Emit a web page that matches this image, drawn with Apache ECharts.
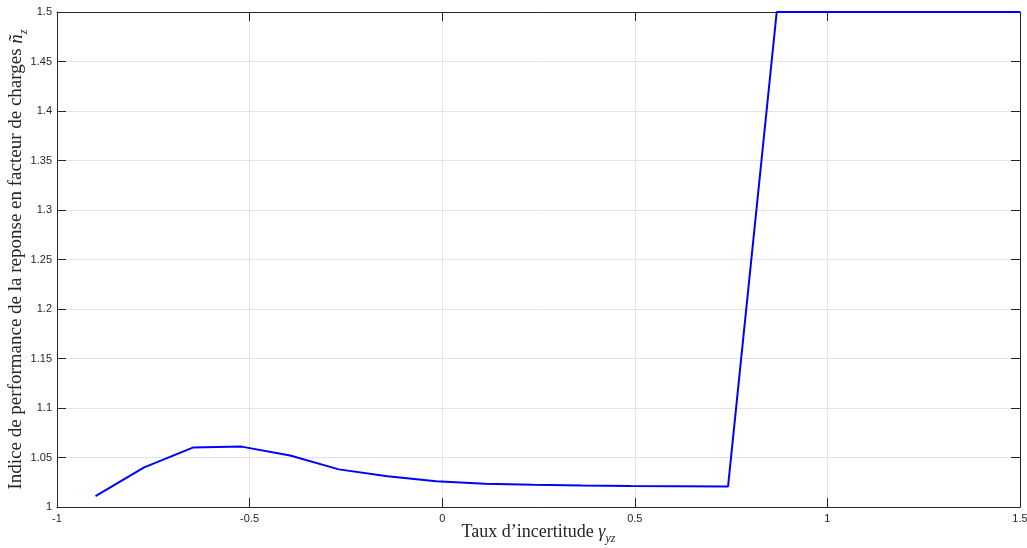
<!DOCTYPE html>
<html>
<head>
<meta charset="utf-8">
<script src="https://cdn.jsdelivr.net/npm/echarts@6/dist/echarts.min.js"></script>
<style>html,body{margin:0;padding:0;background:#fff}#c{width:1027px;height:548px}</style>
</head>
<body>
<div id="c"></div>
<script>
const xValues = [-0.9, -0.7737, -0.6474, -0.5211, -0.3947, -0.2684, -0.1421, -0.0158, 0.1105, 0.2368, 0.3632, 0.4895, 0.6158, 0.7421, 0.8684, 0.9947, 1.1211, 1.2474, 1.3737, 1.5];
const yValues = [1.011, 1.040, 1.060, 1.061, 1.052, 1.038, 1.031, 1.026, 1.0235, 1.0225, 1.0218, 1.0213, 1.021, 1.0208, 1.5, 1.5, 1.5, 1.5, 1.5, 1.5];
const xTicks = [-1, -0.5, 0, 0.5, 1, 1.5];
const yTicks = [1, 1.05, 1.1, 1.15, 1.2, 1.25, 1.3, 1.35, 1.4, 1.45, 1.5];

const axisColor = '#262626';
const labelFont = {color: axisColor, fontFamily: 'Liberation Sans', fontSize: 11};
const serif = 'Liberation Serif';
const chart = echarts.init(document.getElementById('c'), null, {renderer: 'canvas'});
const fmt = v => String(+v.toFixed(2));
const baseTick = {show: true, inside: true, length: 9, lineStyle: {color: axisColor, width: 1}};
const richName = size => ({
  t: {fontFamily: serif, fontSize: size, color: axisColor, lineHeight: 22, verticalAlign: 'bottom'},
  i: {fontFamily: serif, fontStyle: 'italic', fontSize: size, color: axisColor, lineHeight: 22, verticalAlign: 'bottom'},
  s: {fontFamily: serif, fontStyle: 'italic', fontSize: 12, color: axisColor, lineHeight: 22, verticalAlign: 'bottom', padding: [0, 0, -4, 0]}
});
chart.setOption({
  animation: false,
  backgroundColor: '#fff',
  grid: {left: 57, right: 7, top: 12, bottom: 41, containLabel: false, outerBoundsMode: 'none'},
  xAxis: [{
    type: 'value', min: xTicks[0], max: xTicks[xTicks.length - 1], interval: 0.5,
    axisLine: {show: true, onZero: false, lineStyle: {color: axisColor, width: 1}},
    axisTick: baseTick,
    axisLabel: Object.assign({margin: 6, formatter: fmt}, labelFont),
    splitLine: {show: true, lineStyle: {color: '#e3e3e3', width: 1}},
    name: '{t|Taux d\u2019incertitude }{i|\u03b3}{s|yz}',
    nameLocation: 'middle', nameGap: 12, nameMoveOverlap: false,
    nameTextStyle: {rich: richName(18)}
  }, {
    type: 'value', position: 'top', min: xTicks[0], max: xTicks[xTicks.length - 1], interval: 0.5,
    axisLine: {show: true, onZero: false, lineStyle: {color: axisColor, width: 1}},
    axisTick: baseTick, axisLabel: {show: false}, splitLine: {show: false}
  }],
  yAxis: [{
    type: 'value', min: yTicks[0], max: yTicks[yTicks.length - 1], interval: 0.05,
    axisLine: {show: true, onZero: false, lineStyle: {color: axisColor, width: 1}},
    axisTick: baseTick,
    axisLabel: Object.assign({margin: 5, formatter: fmt}, labelFont),
    splitLine: {show: true, lineStyle: {color: '#e3e3e3', width: 1}},
    name: '{t|Indice de performance de la reponse en facteur de charges }{i|\u00f1}{s|z}',
    nameLocation: 'middle', nameGap: 31, nameMoveOverlap: false,
    nameTextStyle: {rich: richName(19)}
  }, {
    type: 'value', position: 'right', min: yTicks[0], max: yTicks[yTicks.length - 1], interval: 0.05,
    axisLine: {show: true, onZero: false, lineStyle: {color: axisColor, width: 1}},
    axisTick: baseTick, axisLabel: {show: false}, splitLine: {show: false}
  }],
  series: [{
    type: 'line',
    data: xValues.map((x, i) => [x, yValues[i]]),
    showSymbol: false,
    lineStyle: {color: '#0000ff', width: 2},
    itemStyle: {color: '#0000ff'},
    clip: true
  }]
});
</script>
</body>
</html>
